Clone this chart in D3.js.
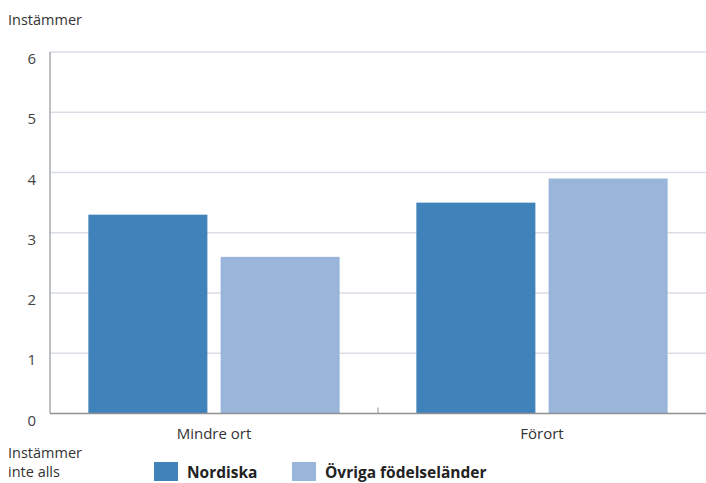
<!DOCTYPE html>
<html>
<head>
<meta charset="utf-8">
<script src="https://cdn.jsdelivr.net/npm/d3@7"></script>
<style>
  html, body { margin: 0; padding: 0; background: #ffffff; }
  svg { display: block; font-family: "Open Sans", "Noto Sans", sans-serif; }
</style>
</head>
<body>
<svg id="chart" width="706" height="483"></svg>
<script>
// Categories, series and values
const categories = ["Mindre ort", "Förort"];
const seriesNames = ["Nordiska", "Övriga födelseländer"];
const nordiska = [3.3, 3.5];
const ovriga = [2.6, 3.9];
const yTicks = [0, 1, 2, 3, 4, 5, 6];
const seriesColors = ["#3f83ba", "#99b5d9"];

const svg = d3.select("#chart");
const plot = { left: 50, right: 706, top: 52, bottom: 413.5 };

const y = d3.scaleLinear().domain([0, 6]).range([plot.bottom, plot.top]);
const x0 = d3.scaleBand().domain(categories).range([plot.left, plot.right]).paddingInner(0).paddingOuter(0);
const x1 = d3.scaleBand().domain(seriesNames).range([0, x0.bandwidth()]).paddingInner(0.1).paddingOuter(0.29);

const rows = categories.map((c, i) => ({ cat: c, vals: [nordiska[i], ovriga[i]] }));

// Horizontal gridlines
svg.append("g")
  .selectAll("line")
  .data(yTicks.filter(t => t > 0))
  .join("line")
  .attr("x1", plot.left).attr("x2", plot.right)
  .attr("y1", d => y(d)).attr("y2", d => y(d))
  .attr("stroke", "#d9dde5").attr("stroke-width", 1.5);

// Bars
const groups = svg.append("g")
  .selectAll("g")
  .data(rows)
  .join("g")
  .attr("transform", d => `translate(${x0(d.cat)},0)`);

groups.selectAll("rect")
  .data(d => d.vals.map((v, j) => ({ key: seriesNames[j], v, j })))
  .join("rect")
  .attr("x", d => x1(d.key))
  .attr("width", x1.bandwidth())
  .attr("y", d => y(d.v))
  .attr("height", d => y(0) - y(d.v))
  .attr("fill", d => seriesColors[d.j]);

// Y axis line and labels
svg.append("line")
  .attr("x1", plot.left).attr("x2", plot.left)
  .attr("y1", plot.top).attr("y2", plot.bottom)
  .attr("stroke", "#a9acb0").attr("stroke-width", 1.5);

svg.append("g")
  .selectAll("text")
  .data(yTicks)
  .join("text")
  .attr("x", 36)
  .attr("y", d => y(d) + 12)
  .attr("text-anchor", "end")
  .attr("font-size", 15)
  .attr("fill", "#444")
  .text(d => d);

// X baseline with separator tick
svg.append("line")
  .attr("x1", plot.left).attr("x2", plot.right)
  .attr("y1", plot.bottom).attr("y2", plot.bottom)
  .attr("stroke", "#8e9195").attr("stroke-width", 1.5);

svg.append("g")
  .selectAll("line")
  .data(categories.slice(1))
  .join("line")
  .attr("x1", d => x0(d)).attr("x2", d => x0(d))
  .attr("y1", plot.bottom).attr("y2", plot.bottom - 6)
  .attr("stroke", "#8e9195").attr("stroke-width", 1);

svg.append("g")
  .selectAll("text")
  .data(categories)
  .join("text")
  .attr("x", d => x0(d) + x0.bandwidth() / 2)
  .attr("y", 439)
  .attr("text-anchor", "middle")
  .attr("font-size", 15)
  .attr("fill", "#333")
  .text(d => d);

// Scale end labels
svg.append("text")
  .attr("x", 8).attr("y", 25)
  .attr("font-size", 14.5).attr("fill", "#333")
  .text("Instämmer");

const low = svg.append("text")
  .attr("x", 8).attr("y", 458)
  .attr("font-size", 14.5).attr("fill", "#333");
low.append("tspan").attr("x", 8).text("Instämmer");
low.append("tspan").attr("x", 8).attr("dy", 19).text("inte alls");

// Legend
const legendX = [154, 292];
const legend = svg.append("g")
  .selectAll("g")
  .data(seriesNames)
  .join("g")
  .attr("transform", (d, i) => `translate(${legendX[i]},462)`);

legend.append("rect")
  .attr("width", 24).attr("height", 19)
  .attr("fill", (d, i) => seriesColors[i]);

legend.append("text")
  .attr("x", 33).attr("y", 16)
  .attr("font-size", 15.5).attr("font-weight", "bold")
  .attr("fill", "#222")
  .text(d => d);
</script>
</body>
</html>
